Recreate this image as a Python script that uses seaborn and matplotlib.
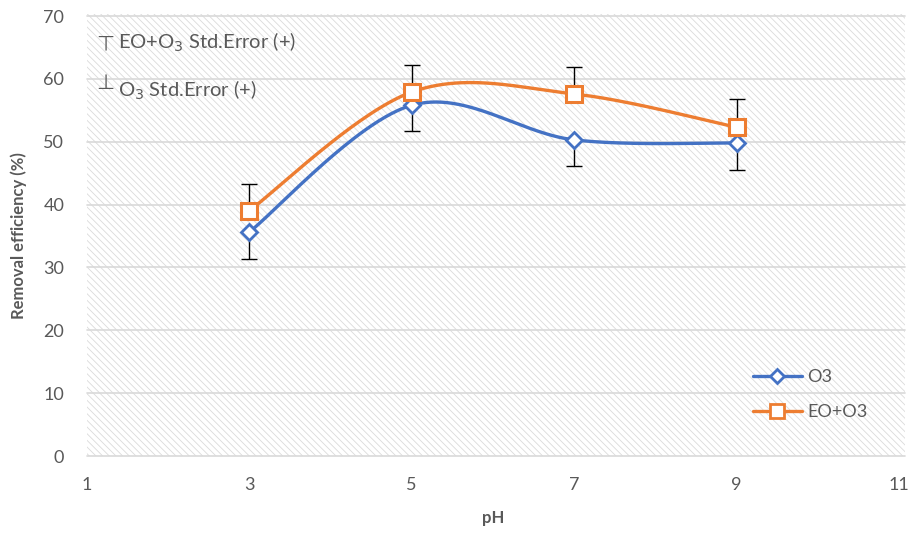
import numpy as np
import pandas as pd
import matplotlib
matplotlib.use("Agg")
import matplotlib.pyplot as plt
from matplotlib.lines import Line2D
from matplotlib.patches import Rectangle
import seaborn as sns

# data
ph = [3, 5, 7, 9]
o3 = [35.6, 55.8, 50.3, 49.8]
eo_o3 = [39.0, 57.9, 57.6, 52.3]
o3_err = [4.3, 4.1, 4.2, 4.3]       # drawn downward only
eo_o3_err = [4.3, 4.3, 4.3, 4.5]    # drawn upward only

BLUE = "#4472C4"
ORANGE = "#ED7D31"
GREY = "#595959"


def excel_smooth(xs, ys, n=60):
    # bezier smoothing like Excel's "smoothed line"
    p = np.column_stack([xs, ys]).astype(float)
    p = np.vstack([p[0], p, p[-1]])
    out = []
    for i in range(1, len(p) - 2):
        p0, p1, p2, p3 = p[i - 1], p[i], p[i + 1], p[i + 2]
        c1 = p1 + (p2 - p0) / 6
        c2 = p2 - (p3 - p1) / 6
        t = np.linspace(0, 1, n)[:, None]
        seg = (1 - t) ** 3 * p1 + 3 * (1 - t) ** 2 * t * c1 + 3 * (1 - t) * t ** 2 * c2 + t ** 3 * p2
        out.append(seg if i == 1 else seg[1:])
    return np.vstack(out)


sns.set_theme(style="white")
plt.rcParams['font.family'] = ['Lato', 'DejaVu Sans']
plt.rcParams['hatch.linewidth'] = 0.6

fig, ax = plt.subplots(figsize=(9.11, 5.34), dpi=100)
fig.subplots_adjust(left=0.095, right=0.987, top=0.970, bottom=0.146)

# hatched plot background
ax.add_patch(Rectangle((0, 0), 1.007, 1.005, transform=ax.transAxes, facecolor="white",
                       edgecolor="#dadada", hatch="\\\\\\\\\\", linewidth=0, zorder=0, clip_on=False))
for v in range(0, 80, 10):
    ax.axhline(v, color="#d9d9d9", lw=1.2, zorder=1, xmax=1.007, clip_on=False)

# error bars
ax.errorbar(ph, eo_o3, yerr=[np.zeros(4), eo_o3_err], fmt="none", ecolor="black",
            elinewidth=1, capsize=6, capthick=1, zorder=2)
ax.errorbar(ph, o3, yerr=[o3_err, np.zeros(4)], fmt="none", ecolor="black",
            elinewidth=1, capsize=6, capthick=1, zorder=2)

# smoothed lines
for xs, ys, col in [(ph, o3, BLUE), (ph, eo_o3, ORANGE)]:
    curve = excel_smooth(xs, ys)
    df = pd.DataFrame({"x": curve[:, 0], "y": curve[:, 1]})
    sns.lineplot(data=df, x="x", y="y", sort=False, color=col, lw=2.4, ax=ax, zorder=3)

ax.plot(ph, o3, ls="none", marker="D", ms=8, mfc="white", mec=BLUE, mew=2, zorder=4)
ax.plot(ph, eo_o3, ls="none", marker="s", ms=12, mfc="white", mec=ORANGE, mew=2.2, zorder=4)

ax.set_xlim(1, 11)
ax.set_ylim(0, 70)
ax.set_xticks([1, 3, 5, 7, 9, 11])
ax.set_yticks(range(0, 80, 10))
ax.tick_params(axis="both", length=0, labelsize=13, labelcolor=GREY)
ax.tick_params(axis="x", pad=15)
ax.tick_params(axis="y", pad=16)
for s in ax.spines.values():
    s.set_visible(False)

ax.set_xlabel("pH", fontsize=12, fontweight="bold", color=GREY, labelpad=12)
ax.set_ylabel("Removal efficiency (%)", fontsize=12, fontweight="bold", color=GREY, labelpad=12)

# error bar notes
ax.text(0.012, 0.935, "\u22a4", transform=ax.transAxes, fontsize=15, color=GREY,
        family="DejaVu Sans", va="center")
ax.text(0.039, 0.94, r"EO+O$_3$ Std.Error (+)", transform=ax.transAxes, fontsize=14.5,
        color=GREY, va="center")
ax.text(0.012, 0.848, "\u22a5", transform=ax.transAxes, fontsize=15, color=GREY,
        family="DejaVu Sans", va="center")
ax.text(0.039, 0.83, r"O$_3$ Std.Error (+)", transform=ax.transAxes, fontsize=14.5,
        color=GREY, va="center")

handles = [
    Line2D([], [], color=BLUE, lw=2.4, marker="D", ms=7, mfc="white", mec=BLUE, mew=2),
    Line2D([], [], color=ORANGE, lw=2.4, marker="s", ms=10, mfc="white", mec=ORANGE, mew=2),
]
leg = ax.legend(handles, ["O3", "EO+O3"], loc="center left", bbox_to_anchor=(0.8, 0.14),
                frameon=False, fontsize=13, handlelength=2.7, labelspacing=1.05, handletextpad=0.3)
for t in leg.get_texts():
    t.set_color(GREY)

fig.savefig("out.png", dpi=100)
